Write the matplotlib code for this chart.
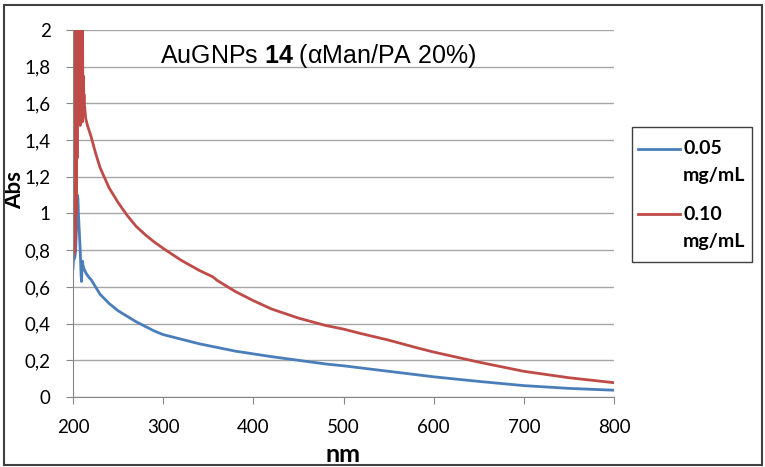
import numpy as np
import matplotlib.pyplot as plt
from matplotlib.patches import Rectangle
from matplotlib.lines import Line2D

# wavelength (nm) / absorbance
nm_blue = [200, 200.5, 201, 202, 203, 204, 204.5, 205, 205.5, 206, 207, 208, 209,
           209.5, 210, 210.5, 211, 212, 213, 215, 218, 220, 225, 230, 240, 250,
           260, 270, 280, 290, 300, 320, 340, 360, 380, 400, 420, 450, 480, 500,
           550, 600, 650, 700, 750, 800]
abs_blue = [0.70, 0.74, 0.75, 0.76, 0.80, 0.95, 1.05, 1.10, 1.08, 1.00, 0.90, 0.80, 0.66,
            0.63, 0.70, 0.74, 0.72, 0.70, 0.69, 0.67, 0.65, 0.64, 0.60, 0.56, 0.51, 0.47,
            0.44, 0.41, 0.385, 0.36, 0.34, 0.315, 0.29, 0.27, 0.25, 0.235, 0.22, 0.20, 0.18, 0.17,
            0.14, 0.11, 0.085, 0.062, 0.047, 0.037]

nm_red = [200, 200.25, 200.5, 200.75, 201.0, 201.25, 201.5, 201.75, 202.0, 202.25, 202.5,
          202.75, 203.0, 203.25, 203.5, 203.75, 204.0, 204.25, 204.5, 204.75, 205.0,
          205.5, 206.0, 206.5, 206.8, 207.1, 207.4, 207.7, 208.0, 208.3, 208.6, 208.9,
          209.2, 209.5, 209.8, 210.1, 210.4, 210.7, 211.0, 211.4, 211.8, 212.2, 212.6,
          213, 214, 216, 218, 220, 225, 230, 240, 250, 260, 270, 280, 290, 300, 320,
          340, 355, 360, 380, 400, 420, 450, 480, 500, 520, 550, 580, 600, 650, 700,
          750, 800]
abs_red = [0.77, 2.5, 0.78, 2.5, 0.78, 2.5, 0.79, 2.5, 0.80, 2.5, 0.85,
           2.5, 0.90, 2.5, 1.0, 2.5, 1.1, 2.5, 1.3, 2.5, 1.6,
           2.5, 2.5, 2.5, 1.6, 2.5, 1.5, 2.5, 1.48, 2.5, 1.55, 2.5,
           1.5, 2.3, 1.6, 2.1, 1.5, 1.9, 1.6, 1.75, 1.55, 1.65, 1.56,
           1.58, 1.52, 1.48, 1.45, 1.42, 1.33, 1.25, 1.14, 1.06, 0.99, 0.93, 0.885, 0.845, 0.81, 0.745,
           0.69, 0.655, 0.635, 0.575, 0.525, 0.48, 0.43, 0.39, 0.37, 0.345, 0.31, 0.27, 0.245, 0.19, 0.14,
           0.105, 0.078]

legend_labels = [('0.05', 'mg/mL'), ('0.10', 'mg/mL')]
y_ticks = [0, 0.2, 0.4, 0.6, 0.8, 1, 1.2, 1.4, 1.6, 1.8, 2]
y_tick_labels = ['0', '0,2', '0,4', '0,6', '0,8', '1', '1,2', '1,4', '1,6', '1,8', '2']
x_ticks = [200, 300, 400, 500, 600, 700, 800]
blue, red = '#4a7ebb', '#be4b48'

plt.rcParams['font.family'] = ['Lato', 'DejaVu Sans']
plt.rcParams['mathtext.fontset'] = 'custom'
plt.rcParams['mathtext.bf'] = 'Liberation Sans:bold'

W, H = 765, 467
fig = plt.figure(figsize=(W / 100, H / 100), dpi=100)
ax = fig.add_axes([73 / W, 1 - 397 / H, 541 / W, 367 / H])

ax.plot(nm_blue, abs_blue, color=blue, lw=2)
ax.plot(nm_red, abs_red, color=red, lw=2)

ax.set_xlim(200, 800)
ax.set_ylim(0, 2)
ax.set_xticks(x_ticks)
ax.set_yticks(y_ticks)
ax.set_yticklabels(y_tick_labels)
ax.tick_params(labelsize=13.5, color='#868686', length=5, direction='out')
ax.tick_params(axis='y', pad=11)
ax.tick_params(axis='x', pad=11)
ax.grid(axis='y', color='#a6a6a6', lw=1)
ax.set_axisbelow(True)
for s in ['top', 'right']:
    ax.spines[s].set_visible(False)
for s in ['left', 'bottom']:
    ax.spines[s].set_color('#868686')

ax.set_xlabel('nm', fontsize=18, fontweight='bold', va='center')
ax.xaxis.set_label_coords(0.499, (397 - 455) / 367)
ax.set_ylabel('Abs', fontsize=16, fontweight='bold', va='center')
ax.yaxis.set_label_coords((15 - 73) / 541, (397 - 190) / 367)

ax.text((160 - 73) / 541, (397 - 63) / 367, r'AuGNPs $\mathbf{14}$ (αMan/PA 20%)',
        transform=ax.transAxes, fontsize=18, family='Liberation Sans',
        va='baseline', ha='left')

# legend box drawn in figure pixels
def fx(px):
    return px / W

def fy(py):
    return 1 - py / H

fig.patches.append(Rectangle((fx(632), fy(262)), fx(752) - fx(632), fy(127) - fy(262),
                             transform=fig.transFigure, fill=False,
                             edgecolor='#404040', lw=1))
for (top, bottom), c, ly in zip(legend_labels, [blue, red], [149, 214]):
    fig.lines.append(Line2D([fx(638), fx(680)], [fy(ly), fy(ly)], color=c, lw=2,
                            transform=fig.transFigure))
    fig.text(fx(683), fy(ly), top, fontsize=14, fontweight='bold', va='center')
    fig.text(fx(683), fy(ly + 27), bottom, fontsize=14, fontweight='bold', va='center')

fig.patches.append(Rectangle((fx(4), fy(465)), fx(762) - fx(4), fy(5) - fy(465),
                             transform=fig.transFigure, fill=False,
                             edgecolor='#404040', lw=1.5))

fig.savefig('out.png', dpi=100)
